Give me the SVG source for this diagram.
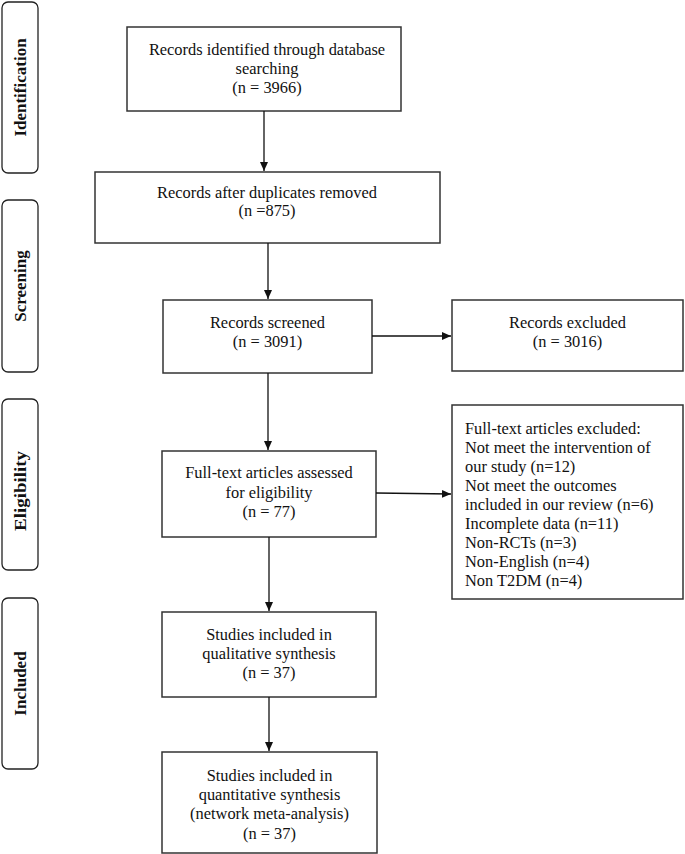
<svg xmlns="http://www.w3.org/2000/svg" width="685" height="854" viewBox="0 0 685 854">
<style>
.box{fill:#fff;stroke:#333;stroke-width:1.5}
.side{fill:#fff;stroke:#222;stroke-width:1.3}
.t{font-family:"Liberation Serif","Times New Roman",serif;font-size:16.4px;fill:#111;text-anchor:middle}
.tl{font-family:"Liberation Serif","Times New Roman",serif;font-size:16.4px;fill:#111}
.s{font-family:"Liberation Serif","Times New Roman",serif;font-size:17px;font-weight:bold;fill:#111;text-anchor:middle}
.c{stroke:#111;stroke-width:1.3;fill:none;marker-end:url(#ah)}
</style>
<defs>
<marker id="ah" markerWidth="10" markerHeight="10" refX="9" refY="5" orient="auto" markerUnits="userSpaceOnUse">
<path d="M0,1 L9,5 L0,9 Z" fill="#111"/>
</marker>
</defs>
<rect width="685" height="854" fill="#fff"/>
<g id="side-identification"><rect class="side" x="2" y="2" width="36" height="171" rx="6"/><text class="s" transform="translate(25.5,87.5) rotate(-90)">Identification</text></g>
<g id="side-screening"><rect class="side" x="2" y="200" width="36" height="172" rx="6"/><text class="s" transform="translate(25.5,286) rotate(-90)">Screening</text></g>
<g id="side-eligibility"><rect class="side" x="2" y="399" width="36" height="171" rx="6"/><text class="s" transform="translate(25.5,491) rotate(-90)" textLength="80" lengthAdjust="spacingAndGlyphs">Eligibility</text></g>
<g id="side-included"><rect class="side" x="2" y="598" width="36" height="171" rx="6"/><text class="s" transform="translate(25.5,683.5) rotate(-90)">Included</text></g>

<g id="identified"><rect class="box" x="127" y="27" width="274" height="84"/>
<text class="t" x="267" y="55">Records identified through database</text>
<text class="t" x="267" y="74">searching</text>
<text class="t" x="267" y="93">(n = 3966)</text></g>

<g id="after-duplicates"><rect class="box" x="95" y="172" width="345" height="71"/>
<text class="t" x="267" y="198">Records after duplicates removed</text>
<text class="t" x="267" y="216">(n =875)</text></g>

<g id="screened"><rect class="box" x="163" y="300" width="209" height="73"/>
<text class="t" x="267.5" y="328">Records screened</text>
<text class="t" x="267.5" y="347">(n = 3091)</text></g>

<g id="excluded"><rect class="box" x="452" y="300" width="231" height="71"/>
<text class="t" x="567.5" y="328">Records excluded</text>
<text class="t" x="567.5" y="347">(n = 3016)</text></g>

<g id="fulltext-assessed"><rect class="box" x="162" y="451" width="214" height="86"/>
<text class="t" x="269" y="478">Full-text articles assessed</text>
<text class="t" x="269" y="498">for eligibility</text>
<text class="t" x="269" y="517">(n = 77)</text></g>

<g id="fulltext-excluded"><rect class="box" x="452" y="405" width="231" height="194"/>
<text class="tl" x="465" y="434">Full-text articles excluded:</text>
<text class="tl" x="465" y="453">Not meet the intervention of</text>
<text class="tl" x="465" y="472">our study (n=12)</text>
<text class="tl" x="465" y="491">Not meet the outcomes</text>
<text class="tl" x="465" y="510">included in our review (n=6)</text>
<text class="tl" x="465" y="529">Incomplete data (n=11)</text>
<text class="tl" x="465" y="548">Non-RCTs (n=3)</text>
<text class="tl" x="465" y="567">Non-English (n=4)</text>
<text class="tl" x="465" y="586">Non T2DM (n=4)</text></g>

<g id="qualitative"><rect class="box" x="162" y="612" width="214" height="85"/>
<text class="t" x="269" y="640">Studies included in</text>
<text class="t" x="269" y="659">qualitative synthesis</text>
<text class="t" x="269" y="678">(n = 37)</text></g>

<g id="quantitative"><rect class="box" x="162" y="752" width="215" height="101"/>
<text class="t" x="269.5" y="781">Studies included in</text>
<text class="t" x="269.5" y="800">quantitative synthesis</text>
<text class="t" x="269.5" y="819">(network meta-analysis)</text>
<text class="t" x="269.5" y="839">(n = 37)</text></g>

<g id="connectors">
<line class="c" x1="264" y1="111" x2="264" y2="171"/>
<line class="c" x1="268" y1="243" x2="268" y2="299"/>
<line class="c" x1="372" y1="336" x2="451" y2="336"/>
<line class="c" x1="268" y1="373" x2="268" y2="450"/>
<line class="c" x1="376" y1="493" x2="451" y2="494"/>
<line class="c" x1="269" y1="537" x2="269" y2="611"/>
<line class="c" x1="269" y1="697" x2="269" y2="751"/>
</g>
</svg>
